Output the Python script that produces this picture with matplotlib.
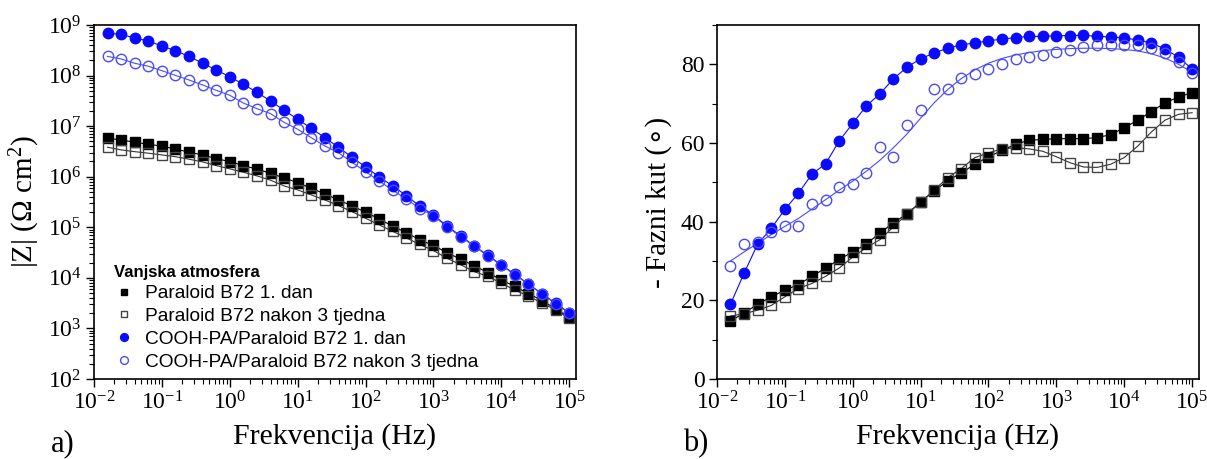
import matplotlib
matplotlib.use("Agg")
import matplotlib.pyplot as plt
from matplotlib.ticker import LogLocator, MultipleLocator, NullFormatter
from matplotlib.lines import Line2D

plt.rcParams["font.family"] = "serif"
plt.rcParams["font.serif"] = ["Liberation Serif", "DejaVu Serif"]
plt.rcParams["mathtext.fontset"] = "custom"
plt.rcParams["mathtext.rm"] = "Liberation Serif"
plt.rcParams["mathtext.it"] = "Liberation Serif:italic"
plt.rcParams["axes.unicode_minus"] = False

# frequency grid (Hz), 5 points per decade
freq = [0.0158, 0.0251, 0.0398, 0.0631, 0.1, 0.158, 0.251, 0.398, 0.631, 1.0,
        1.58, 2.51, 3.98, 6.31, 10, 15.8, 25.1, 39.8, 63.1, 100,
        158, 251, 398, 631, 1000, 1580, 2510, 3980, 6310, 1e4,
        1.58e4, 2.51e4, 3.98e4, 6.31e4, 1e5]

# |Z| (Ohm cm2)
z_b72_d1 = [5.77e6, 5.33e6, 4.81e6, 4.39e6, 4.01e6, 3.54e6, 3.05e6, 2.70e6, 2.28e6, 1.99e6,
            1.66e6, 1.41e6, 1.17e6, 9.46e5, 7.64e5, 5.93e5, 4.57e5, 3.48e5, 2.65e5, 1.99e5,
            1.47e5, 1.05e5, 7.85e4, 5.64e4, 4.37e4, 3.16e4, 2.34e4, 1.74e4, 1.27e4, 9.12e3,
            6.76e3, 4.90e3, 3.55e3, 2.45e3, 1.66e3]
z_b72_w3 = [3.83e6, 3.39e6, 3.13e6, 2.92e6, 2.70e6, 2.49e6, 2.22e6, 1.96e6, 1.66e6, 1.43e6,
            1.23e6, 1.04e6, 8.53e5, 6.58e5, 5.48e5, 4.37e5, 3.48e5, 2.69e5, 2.04e5, 1.51e5,
            1.12e5, 8.32e4, 6.17e4, 4.57e4, 3.47e4, 2.45e4, 1.82e4, 1.33e4, 1.07e4, 7.85e3,
            5.75e3, 4.37e3, 3.16e3, 2.34e3, 1.58e3]
z_pa_d1 = [6.86e8, 6.55e8, 5.53e8, 4.83e8, 3.85e8, 3.10e8, 2.40e8, 1.75e8, 1.29e8, 9.50e7,
           6.73e7, 4.68e7, 3.15e7, 2.06e7, 1.37e7, 9.08e6, 5.93e6, 3.83e6, 2.43e6, 1.56e6,
           1.00e6, 6.58e5, 4.24e5, 2.61e5, 1.74e5, 1.07e5, 6.76e4, 4.32e4, 2.79e4, 1.82e4,
           1.17e4, 7.60e3, 4.84e3, 3.16e3, 2.04e3]
z_pa_w3 = [2.40e8, 2.13e8, 1.75e8, 1.53e8, 1.25e8, 1.01e8, 8.18e7, 6.52e7, 5.12e7, 4.08e7,
           2.87e7, 2.22e7, 1.77e7, 1.19e7, 8.69e6, 5.93e6, 4.06e6, 2.99e6, 1.93e6, 1.26e6,
           8.26e5, 5.41e5, 3.64e5, 2.34e5, 1.68e5, 1.03e5, 6.55e4, 4.23e4, 2.72e4, 1.78e4,
           1.15e4, 7.50e3, 4.76e3, 3.10e3, 2.00e3]

# -phase (deg)
ph_b72_d1 = [14.7, 16.8, 19.0, 20.9, 22.6, 24.0, 26.1, 28.2, 30.4, 32.3,
             34.3, 37.1, 39.7, 42.0, 45.0, 47.8, 50.4, 52.4, 54.6, 56.5,
             58.1, 59.7, 60.7, 60.9, 61.1, 61.1, 61.1, 61.4, 62.1, 63.9,
             65.8, 68.0, 70.2, 71.7, 72.8]
ph_b72_w3 = [16.0, 16.6, 17.5, 18.7, 20.9, 23.0, 24.3, 26.1, 28.2, 31.0,
             33.4, 35.4, 38.7, 41.9, 44.9, 48.0, 51.2, 53.5, 56.3, 57.5,
             58.5, 58.8, 58.5, 57.9, 56.5, 55.0, 53.9, 53.8, 54.6, 56.3,
             59.2, 62.8, 65.8, 67.3, 67.7]
ph_pa_d1 = [19.0, 26.9, 34.3, 38.3, 43.1, 47.2, 52.1, 54.7, 60.5, 65.0,
            69.4, 72.5, 76.3, 79.3, 81.4, 82.9, 84.1, 85.0, 85.4, 86.0,
            86.4, 86.8, 87.1, 87.1, 87.3, 87.3, 87.4, 87.1, 87.0, 86.7,
            86.2, 85.4, 83.9, 81.8, 78.8]
ph_pa_w3 = [28.8, 34.3, 34.8, 37.5, 39.0, 39.0, 44.6, 45.4, 48.7, 49.7,
            52.5, 59.0, 56.4, 64.5, 68.3, 73.7, 73.8, 76.5, 77.6, 78.8,
            80.1, 81.4, 81.9, 82.4, 83.2, 83.7, 84.3, 84.8, 85.0, 85.0,
            84.8, 84.1, 82.9, 80.7, 77.8]
# fitted curve for the aged COOH-PA sample
ph_pa_w3_fit = [30.0, 32.3, 34.5, 36.7, 38.8, 40.8, 43.2, 45.6, 48.0, 50.3,
                52.8, 55.6, 58.8, 62.3, 66.3, 70.2, 73.6, 76.4, 78.6, 80.3,
                81.5, 82.4, 83.0, 83.5, 83.8, 84.0, 84.1, 84.1, 84.0, 83.8,
                83.4, 82.7, 81.6, 80.0, 78.0]

labels = ["Paraloid B72 1. dan", "Paraloid B72 nakon 3 tjedna",
          "COOH-PA/Paraloid B72 1. dan", "COOH-PA/Paraloid B72 nakon 3 tjedna"]

blue = "#0a0aff"
blue_open = "#4a4aff"
styles = [
    dict(marker="s", mfc="black", mec="black", ms=6.5, mew=1.0),
    dict(marker="s", mfc="none", mec="#444444", ms=6.5, mew=1.0),
    dict(marker="o", mfc=blue, mec=blue, ms=7.5, mew=1.0),
    dict(marker="o", mfc="none", mec=blue_open, ms=7.5, mew=1.0),
]
line_cols = ["black", "#333333", blue, blue_open]

fig = plt.figure(figsize=(12.07, 4.59), dpi=100)
ax1 = fig.add_axes([0.0779, 0.1743, 0.3993, 0.7712])
ax2 = fig.add_axes([0.594, 0.1743, 0.3993, 0.7712])

# left: impedance modulus
for y, st, lc in zip([z_b72_d1, z_b72_w3, z_pa_d1, z_pa_w3], styles, line_cols):
    ax1.plot(freq, y, color=lc, lw=0.8, zorder=2)
    ax1.plot(freq, y, ls="none", zorder=3, **st)

# right: phase angle
ph_lines = [ph_b72_d1, ph_b72_w3, ph_pa_d1, ph_pa_w3_fit]
for y, yl, st, lc in zip([ph_b72_d1, ph_b72_w3, ph_pa_d1, ph_pa_w3], ph_lines, styles, line_cols):
    ax2.plot(freq, yl, color=lc, lw=0.8, zorder=2)
    ax2.plot(freq, y, ls="none", zorder=3, **st)

for ax in (ax1, ax2):
    ax.set_xscale("log")
    ax.set_xlim(1e-2, 10 ** 5.1)
    ax.xaxis.set_major_locator(LogLocator(base=10, numticks=12))
    ax.xaxis.set_minor_locator(LogLocator(base=10, subs=range(2, 10), numticks=12))
    ax.xaxis.set_minor_formatter(NullFormatter())
    ax.tick_params(which="both", direction="out", top=False, right=False, labelsize=17, pad=3)
    ax.tick_params(which="major", length=6, width=1.0)
    ax.tick_params(which="minor", length=3.5, width=0.8)
    for s in ax.spines.values():
        s.set_linewidth(1.2)
    ax.set_xlabel("Frekvencija (Hz)", fontsize=21.5, labelpad=6)

ax1.set_yscale("log")
ax1.set_ylim(1e2, 1e9)
ax1.yaxis.set_major_locator(LogLocator(base=10, numticks=12))
ax1.yaxis.set_minor_locator(LogLocator(base=10, subs=range(2, 10), numticks=12))
ax1.yaxis.set_minor_formatter(NullFormatter())
ax1.set_ylabel("|Z| (Ω cm$^{2}$)", fontsize=21, labelpad=4)

ax2.set_ylim(0, 90)
ax2.yaxis.set_major_locator(MultipleLocator(20))
ax2.yaxis.set_minor_locator(MultipleLocator(10))
ax2.set_ylabel("- Fazni kut (∘)", fontsize=21, labelpad=6,
               family=["Liberation Serif", "DejaVu Sans"])

handles = [Line2D([], [], ls="none", **st) for st in styles]
leg = ax1.legend(handles, labels, loc="lower left", bbox_to_anchor=(0.01, -0.02),
                 frameon=False, title="Vanjska atmosfera", alignment="left",
                 prop={"family": "Liberation Sans", "size": 13.8},
                 title_fontproperties={"family": "Liberation Sans", "size": 12, "weight": "bold"},
                 markerscale=0.75, handlelength=1.0, handletextpad=0.6,
                 labelspacing=0.28, borderpad=0.3)

fig.text(0.042, 0.016, "a)", fontsize=22)
fig.text(0.566, 0.016, "b)", fontsize=22)

fig.savefig("out.png", dpi=100)
